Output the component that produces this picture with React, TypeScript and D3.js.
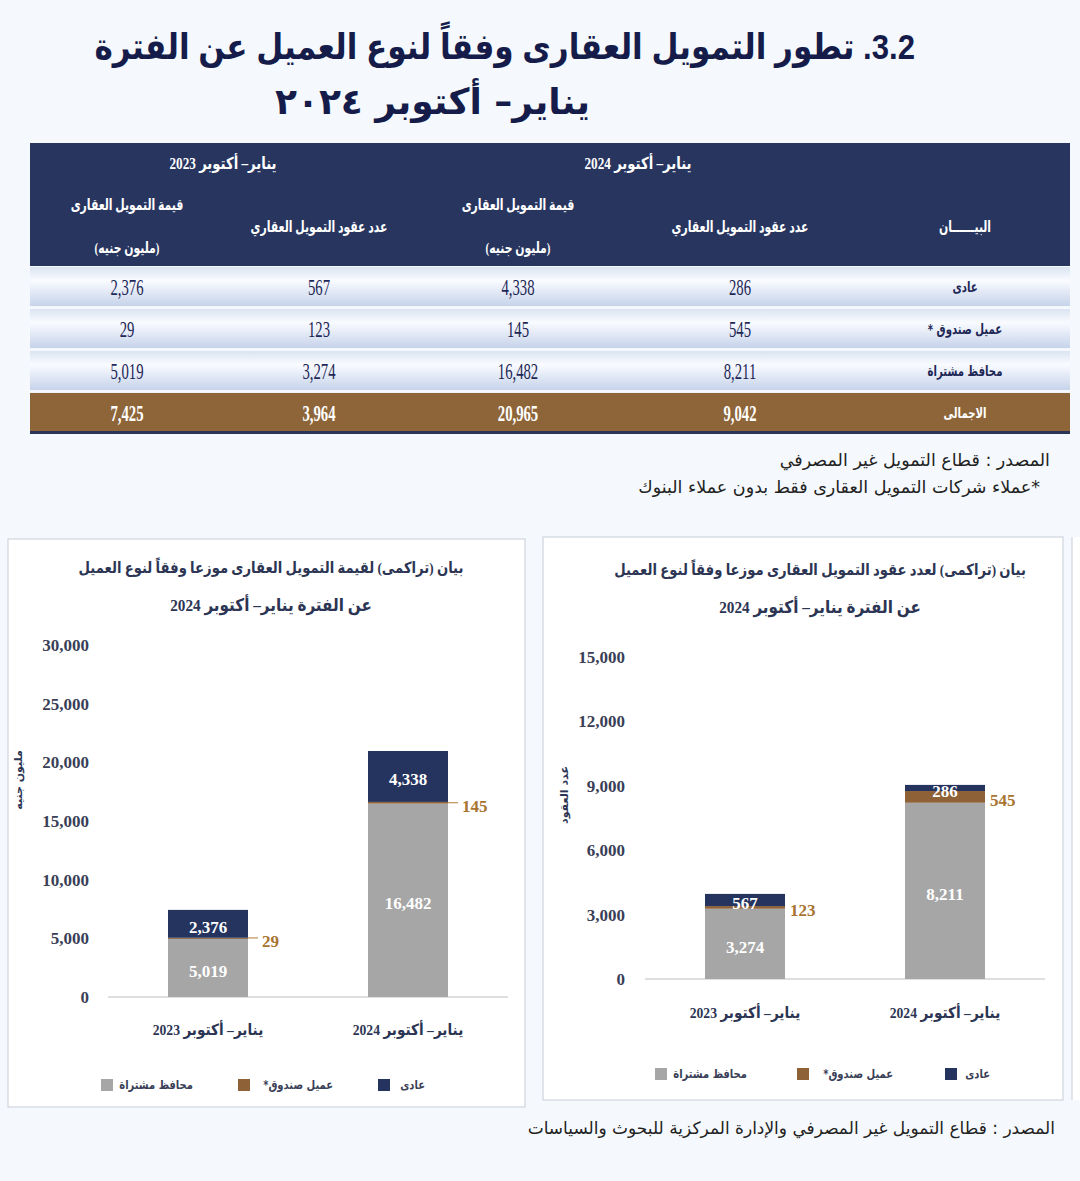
import * as d3 from "d3";

// data
const periods = ["2023", "2024"];
const periodLabels = ["يناير– أكتوبر 2023", "يناير– أكتوبر 2024"];
const clientKeys = ["regular", "fund", "portfolio"];
const clientNames = ["عادى", "عميل صندوق*", "محافظ مشتراة"];
const tableRowNames = ["عادى", "عميل صندوق *", "محافظ مشتراة", "الاجمالى"];

const valueRegular = [2376, 4338];
const valueFund = [29, 145];
const valuePortfolio = [5019, 16482];
const valueTotal = [7425, 20965];

const countRegular = [567, 286];
const countFund = [123, 545];
const countPortfolio = [3274, 8211];
const countTotal = [3964, 9042];

const valueTicks = [0, 5000, 10000, 15000, 20000, 25000, 30000];
const countTicks = [0, 3000, 6000, 9000, 12000, 15000];

const NAVY = "#25335f";
const BROWN = "#8e6136";
const GRAY = "#a6a6a6";
const AR = "'DejaVu Sans', sans-serif";
const SERIF = "'Liberation Serif', 'DejaVu Sans', serif";
const fmt = d3.format(",");

const colors: Record<string, string> = { regular: NAVY, fund: BROWN, portfolio: GRAY };

// text squeezed horizontally around its anchor point
function T({ x, y, sx = 1, anchor = "middle", rtl = true, children, ...rest }: any) {
  return (
    <text
      transform={`translate(${x},${y}) scale(${sx},1)`}
      dy="0.35em"
      textAnchor={anchor}
      direction={rtl ? "rtl" : "ltr"}
      {...rest}
    >
      {children}
    </text>
  );
}

type ChartProps = {
  title1: string;
  title2: string;
  yTitle: string;
  ticks: number[];
  regular: number[];
  fund: number[];
  portfolio: number[];
  box: { x: number; y: number; w: number; h: number };
  plot: { left: number; right: number; top: number; bottom: number };
  tickX: number;
  titleX: number;
  titleY: [number, number];
  yTitlePos: [number, number];
  xLabelY: number;
  legendY: number;
  legendPos: { sq: number; tx: number }[];
  leader: boolean;
};

function StackChart(p: ChartProps) {
  const y = d3
    .scaleLinear()
    .domain([0, d3.max(p.ticks) ?? 1])
    .range([p.plot.bottom, p.plot.top]);
  const x = d3.scaleBand<string>().domain(periods).range([p.plot.left, p.plot.right]).padding(0);
  const barW = x.bandwidth() * 0.4;

  const rows = periods.map((per, i) => ({
    period: per,
    portfolio: p.portfolio[i],
    fund: p.fund[i],
    regular: p.regular[i],
  }));
  const series = d3.stack<any>().keys(["portfolio", "fund", "regular"])(rows);

  return (
    <g>
      <rect x={p.box.x} y={p.box.y} width={p.box.w} height={p.box.h} fill="#ffffff" stroke="#cfd5de" strokeWidth={1.2} />
      <T x={p.titleX} y={p.titleY[0]} sx={0.85} fontFamily={SERIF} fontWeight="bold" fontSize={15.5} fill="#2c3553">
        {p.title1}
      </T>
      <T x={p.titleX} y={p.titleY[1]} sx={0.87} fontFamily={SERIF} fontWeight="bold" fontSize={17.5} fill="#2c3553">
        {p.title2}
      </T>

      {p.ticks.map((t) => (
        <text key={t} x={p.tickX} y={y(t)} dy="0.35em" textAnchor="end" fontFamily={SERIF} fontWeight="bold" fontSize={17} fill="#3a3f57">
          {fmt(t)}
        </text>
      ))}
      <text
        transform={`translate(${p.yTitlePos[0]},${p.yTitlePos[1]}) rotate(-90)`}
        textAnchor="middle"
        direction="rtl"
        fontFamily={AR}
        fontWeight="bold"
        fontSize={11}
        fill="#2c3553"
      >
        {p.yTitle}
      </text>

      <line x1={p.plot.left} x2={p.plot.right} y1={y(0)} y2={y(0)} stroke="#d4d4d4" strokeWidth={1.5} />

      {series.map((s) =>
        s.map((d, i) => {
          const bx = (x(periods[i]) ?? 0) + (x.bandwidth() - barW) / 2;
          const y0 = y(d[0]);
          const y1 = y(d[1]);
          const val = d[1] - d[0];
          const cy = (y0 + y1) / 2;
          return (
            <g key={s.key + i}>
              <rect x={bx} y={y1} width={barW} height={Math.max(y0 - y1, 1)} fill={colors[s.key]} />
              {s.key === "fund" ? (
                <g>
                  {p.leader && <line x1={bx + barW} x2={bx + barW + 10} y1={cy} y2={cy} stroke="#b07a3a" strokeWidth={1} />}
                  <text x={bx + barW + (p.leader ? 14 : 5)} y={cy + 3} dy="0.35em" fontFamily={SERIF} fontWeight="bold" fontSize={17} fill="#a8742f">
                    {fmt(val)}
                  </text>
                </g>
              ) : (
                <text x={bx + barW / 2} y={cy + 3} dy="0.35em" textAnchor="middle" fontFamily={SERIF} fontWeight="bold" fontSize={17} fill="#ffffff">
                  {fmt(val)}
                </text>
              )}
            </g>
          );
        })
      )}

      {periods.map((per, i) => (
        <T
          key={per}
          x={(x(per) ?? 0) + x.bandwidth() / 2}
          y={p.xLabelY}
          sx={0.88}
          fontFamily={SERIF}
          fontWeight="bold"
          fontSize={15.5}
          fill="#2c3553"
        >
          {periodLabels[i]}
        </T>
      ))}

      {clientKeys.map((k, i) => (
        <g key={k}>
          <rect x={p.legendPos[i].sq} y={p.legendY - 6} width={12} height={12} fill={colors[k]} />
          <T x={p.legendPos[i].tx} y={p.legendY} sx={0.8} anchor="start" fontFamily={AR} fontWeight="bold" fontSize={12.5} fill="#3a3f57">
            {clientNames[i]}
          </T>
        </g>
      ))}
    </g>
  );
}

function Table() {
  const left = 30;
  const right = 1070;
  const colX = [965, 740, 518, 319, 127];
  const rowY = d3.scaleBand<string>().domain(tableRowNames).range([267, 432]).paddingInner(0.07);
  const rowVals = [
    [countRegular[1], valueRegular[1], countRegular[0], valueRegular[0]],
    [countFund[1], valueFund[1], countFund[0], valueFund[0]],
    [countPortfolio[1], valuePortfolio[1], countPortfolio[0], valuePortfolio[0]],
    [countTotal[1], valueTotal[1], countTotal[0], valueTotal[0]],
  ];
  const hdr = { fontFamily: SERIF, fontWeight: "bold", fontSize: 15.5, fill: "#ffffff", sx: 0.7 };
  return (
    <g>
      <defs>
        <linearGradient id="rowGrad" x1="0" y1="0" x2="0" y2="1">
          <stop offset="0%" stopColor="#dbe4f2" />
          <stop offset="35%" stopColor="#f9fbff" />
          <stop offset="100%" stopColor="#c6d3ea" />
        </linearGradient>
      </defs>
      <rect x={left} y={143} width={right - left} height={123} fill="#27355f" />
      <T x={638} y={163} {...hdr} fontSize={16.5} sx={0.8}>
        {periodLabels[1]}
      </T>
      <T x={223} y={163} {...hdr} fontSize={16.5} sx={0.8}>
        {periodLabels[0]}
      </T>
      <T x={colX[0]} y={227} {...hdr}>
        البيــــــان
      </T>
      {[1, 3].map((c) => (
        <T key={c} x={colX[c]} y={227} {...hdr}>
          عدد عقود التمويل العقاري
        </T>
      ))}
      {[2, 4].map((c) => (
        <g key={c}>
          <T x={colX[c]} y={205} {...hdr}>
            قيمة التمويل العقارى
          </T>
          <T x={colX[c]} y={248} {...hdr}>
            (مليون جنيه)
          </T>
        </g>
      ))}

      {tableRowNames.map((name, r) => {
        const y0 = rowY(name) ?? 0;
        const cy = y0 + rowY.bandwidth() / 2;
        const total = r === tableRowNames.length - 1;
        return (
          <g key={name}>
            <rect x={left} y={y0} width={right - left} height={rowY.bandwidth()} fill={total ? "#8e6539" : "url(#rowGrad)"} />
            <T x={colX[0]} y={cy} sx={0.7} fontFamily={AR} fontWeight="bold" fontSize={14.5} fill={total ? "#ffffff" : "#1e2756"}>
              {name}
            </T>
            {rowVals[r].map((v, c) => (
              <T
                key={c}
                x={colX[c + 1]}
                y={cy}
                sx={0.64}
                rtl={false}
                fontFamily="'Liberation Serif', serif"
                fontWeight={total ? "bold" : "normal"}
                fontSize={23}
                fill={total ? "#ffffff" : "#1e2756"}
              >
                {fmt(v)}
              </T>
            ))}
          </g>
        );
      })}
      <rect x={left} y={431} width={right - left} height={3} fill="#2a3557" />
    </g>
  );
}

export default function App() {
  return (
    <div style={{ position: "absolute", left: 0, top: 0 }}>
      <svg width={1080} height={1181} viewBox="0 0 1080 1181" style={{ display: "block" }}>
        <rect x={0} y={0} width={1080} height={1181} fill="#f5f9fd" />

        <T x={915} y={46} sx={0.865} anchor="start" fontFamily="'Liberation Sans', 'DejaVu Sans', sans-serif" fontWeight="bold" fontSize={36} fill="#161c4a">
          3.2. تطور التمويل العقارى وفقاً لنوع العميل عن الفترة
        </T>
        <T x={590} y={101} sx={1.0} anchor="start" fontFamily={AR} fontWeight="bold" fontSize={36} fill="#161c4a">
          يناير– أكتوبر ٢٠٢٤
        </T>

        <Table />

        <T x={1050} y={460} anchor="start" fontFamily={AR} fontSize={17.5} fill="#222">
          المصدر : قطاع التمويل غير المصرفي
        </T>
        <T x={1040} y={487} anchor="start" fontFamily={AR} fontSize={17.5} fill="#222">
          *عملاء شركات التمويل العقارى فقط بدون عملاء البنوك
        </T>

        <StackChart
          title1="بيان (تراكمى) لقيمة التمويل العقارى موزعا وفقاً لنوع العميل"
          title2="عن الفترة يناير– أكتوبر 2024"
          yTitle="مليون جنيه"
          ticks={valueTicks}
          regular={valueRegular}
          fund={valueFund}
          portfolio={valuePortfolio}
          box={{ x: 8, y: 539, w: 517, h: 568 }}
          plot={{ left: 108, right: 508, top: 645, bottom: 997 }}
          tickX={89}
          titleX={271}
          titleY={[568, 605]}
          yTitlePos={[22, 780]}
          xLabelY={1030}
          legendY={1085}
          legendPos={[
            { sq: 378, tx: 425 },
            { sq: 238, tx: 333 },
            { sq: 101, tx: 193 },
          ]}
          leader={true}
        />

        <StackChart
          title1="بيان (تراكمى) لعدد عقود التمويل العقارى موزعا وفقاً لنوع العميل"
          title2="عن الفترة يناير– أكتوبر 2024"
          yTitle="عدد العقود"
          ticks={countTicks}
          regular={countRegular}
          fund={countFund}
          portfolio={countPortfolio}
          box={{ x: 543, y: 537, w: 520, h: 563 }}
          plot={{ left: 645, right: 1045, top: 657, bottom: 979 }}
          tickX={625}
          titleX={820}
          titleY={[570, 607]}
          yTitlePos={[568, 795]}
          xLabelY={1013}
          legendY={1074}
          legendPos={[
            { sq: 945, tx: 990 },
            { sq: 797, tx: 893 },
            { sq: 655, tx: 747 },
          ]}
          leader={false}
        />

        <rect x={1072} y={537} width={8} height={563} fill="#ffffff" />
        <line x1={1072} x2={1072} y1={537} y2={1100} stroke="#cfd5de" strokeWidth={1.2} />

        <T x={1055} y={1128} anchor="start" fontFamily={AR} fontSize={17} fill="#222">
          المصدر : قطاع التمويل غير المصرفي والإدارة المركزية للبحوث والسياسات
        </T>
      </svg>
    </div>
  );
}
